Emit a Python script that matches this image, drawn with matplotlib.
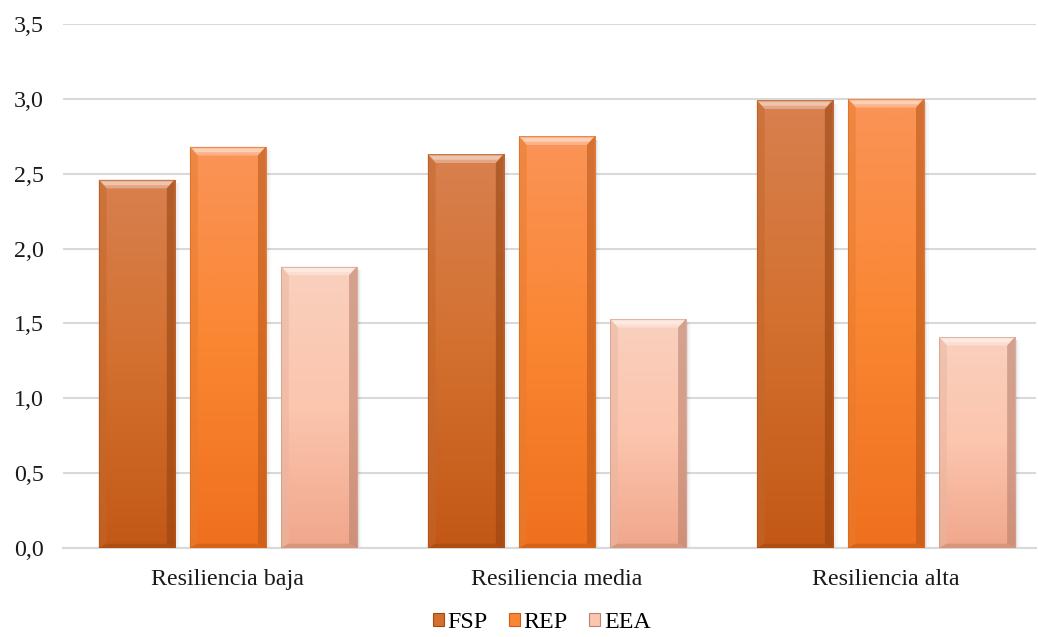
import numpy as np
import matplotlib
matplotlib.use("Agg")
import matplotlib.pyplot as plt
from matplotlib.patches import Polygon, Patch, Rectangle
from matplotlib.colors import to_rgb
from matplotlib.ticker import FuncFormatter

plt.rcParams['font.family'] = ['Liberation Serif', 'DejaVu Serif']

categories = ["Resiliencia baja", "Resiliencia media", "Resiliencia alta"]
series = ["FSP", "REP", "EEA"]
fsp = [2.46, 2.63, 2.99]
rep = [2.68, 2.75, 3.00]
eea = [1.88, 1.53, 1.41]

# top / middle / bottom gradient colours per series
grad = {
    "FSP": ("#D8804F", "#D3702F", "#C35816"),
    "REP": ("#FA9458", "#FA8632", "#EF701E"),
    "EEA": ("#F9D0BE", "#FCC5AE", "#F0A78C"),
}
edge = {"FSP": "#A44A14", "REP": "#C85F1C", "EEA": "#B9857A"}

fig = plt.figure(figsize=(10.38, 6.37), dpi=100)
ax = fig.add_axes([0.061, 0.1397, 0.937, 0.8226])

x = np.arange(len(categories))
width = 0.231
offsets = [-0.277, 0.0, 0.277]


def mix(c, other, t):
    a = np.array(to_rgb(c))
    b = np.array(to_rgb(other))
    return tuple(a * (1 - t) + b * t)


def bevel_bar(rect, name):
    x0, w, h = rect.get_x(), rect.get_width(), rect.get_height()
    top, mid, bot = grad[name]
    # soft drop shadow
    for i, a in enumerate([0.06, 0.04, 0.025]):
        d = 0.005 * (i + 1)
        ax.add_patch(Rectangle((x0 + d, -0.012), w, h - 0.01, facecolor="black",
                               alpha=a, edgecolor="none", zorder=2))
    # vertical gradient body, three stops
    t = np.linspace(0, 1, 256)
    stops = np.array([to_rgb(top), to_rgb(mid), to_rgb(bot)])
    img = np.stack([np.interp(t, [0, 0.5, 1], stops[:, k]) for k in range(3)], axis=-1)
    img = np.repeat(img[:, None, :], 2, axis=1)
    im = ax.imshow(img, extent=(x0, x0 + w, 0, h), origin="upper",
                   aspect="auto", zorder=3, interpolation="bilinear")
    im.set_clip_path(rect)
    # bevel edges
    bx, by = 0.024, 0.058
    ax.add_patch(Polygon([(x0, h), (x0 + w, h), (x0 + w - bx, h - by), (x0 + bx, h - by)],
                         closed=True, facecolor=mix(top, "white", 0.3),
                         edgecolor="none", zorder=4))
    ax.add_patch(Polygon([(x0 + 0.3 * bx, h - 0.012), (x0 + w - 0.3 * bx, h - 0.012),
                          (x0 + w - 0.7 * bx, h - 0.036), (x0 + 0.7 * bx, h - 0.036)],
                         closed=True, facecolor=mix(top, "white", 0.55),
                         edgecolor="none", zorder=4))
    ax.add_patch(Polygon([(x0, h), (x0 + bx, h - by), (x0 + bx, by * 0.5), (x0, 0)],
                         closed=True, facecolor=mix(mid, "black", 0.08), alpha=0.5,
                         edgecolor="none", zorder=4))
    ax.add_patch(Polygon([(x0 + w, h), (x0 + w - bx, h - by), (x0 + w - bx, by * 0.5), (x0 + w, 0)],
                         closed=True, facecolor=mix(bot, "black", 0.25), alpha=0.55,
                         edgecolor="none", zorder=4))
    ax.add_patch(Polygon([(x0, 0), (x0 + bx, by * 0.5), (x0 + w - bx, by * 0.5), (x0 + w, 0)],
                         closed=True, facecolor=mix(bot, "black", 0.15), alpha=0.7,
                         edgecolor="none", zorder=4))
    ax.add_patch(Rectangle((x0, 0), w, h, facecolor="none", edgecolor=edge[name],
                           linewidth=0.7, alpha=0.45, zorder=5))


for name, vals, off in zip(series, [fsp, rep, eea], offsets):
    bars = ax.bar(x + off, vals, width, facecolor="none", edgecolor="none", zorder=3)
    for r in bars:
        bevel_bar(r, name)

ax.set_xlim(-0.5, 2.456)
ax.set_ylim(0, 3.5)
ax.set_yticks(np.arange(0, 3.51, 0.5))
ax.yaxis.set_major_formatter(FuncFormatter(lambda v, p: f"{v:.1f}".replace(".", ",")))
ax.set_xticks(x)
ax.set_xticklabels(categories)
ax.tick_params(axis="both", length=0, labelsize=17.3, colors="#1a1a1a")
ax.tick_params(axis="x", pad=15)
ax.tick_params(axis="y", pad=14)
ax.grid(axis="y", color="#D9D9D9", linewidth=1.5, zorder=0)
ax.set_axisbelow(True)
for s in ["top", "right", "left"]:
    ax.spines[s].set_visible(False)
ax.spines["bottom"].set_color("#D9D9D9")
ax.spines["bottom"].set_linewidth(1.5)

handles = [Patch(facecolor=grad[n][1], edgecolor=edge[n], linewidth=0.8)
           for n in series]
fig.legend(handles, series, loc="lower center", ncol=3, frameon=False,
           fontsize=17.3, bbox_to_anchor=(0.522, -0.028), handlelength=0.45,
           handleheight=0.45, handletextpad=0.15, columnspacing=0.9)

fig.savefig("out.png", dpi=100)
